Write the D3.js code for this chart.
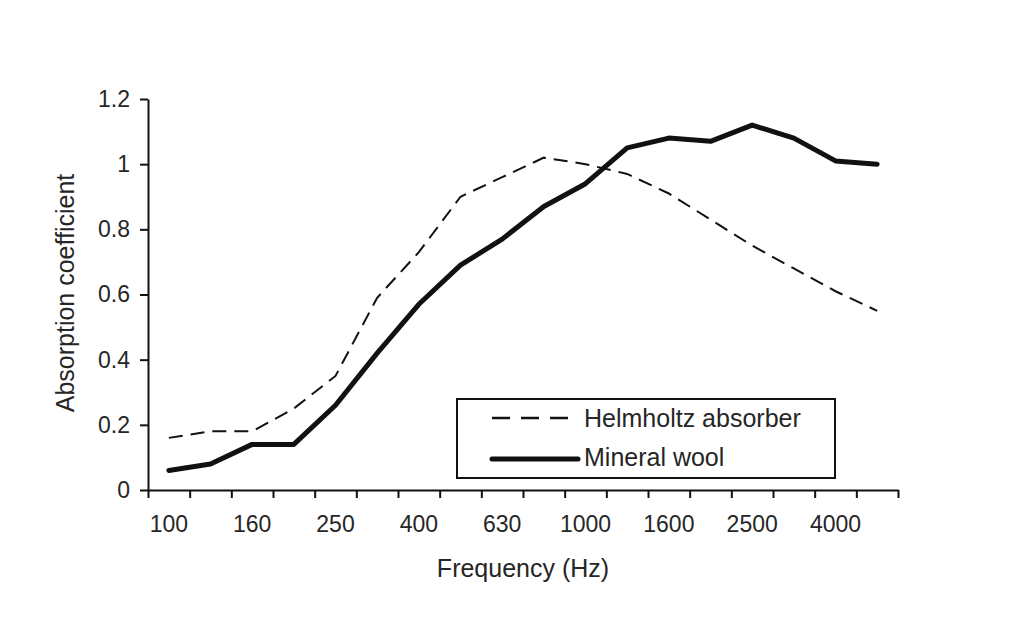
<!DOCTYPE html>
<html lang="en">
    <head>
        <meta charset="utf-8">
        <title>Absorption coefficient</title>
        <script src="https://d3js.org/d3.v7.min.js"></script>
        <style type="text/css">
            body { margin: 0; background: #fff; }
            text { font-family: "Liberation Sans", Arial, sans-serif; fill: #262626; }
            .axis path, .axis line { stroke: #111; stroke-width: 2; }
        </style>
    </head>
    <body>
        <script type="text/javascript">

            //consts
            const w = 1024;
            const h = 640;
            const mLeft = 148, mRight = 898, mTop = 99, mBottom = 490;

            //data
            const freqs = ["100", "125", "160", "200", "250", "315", "400", "500", "630",
                           "800", "1000", "1250", "1600", "2000", "2500", "3150", "4000", "5000"];
            const xLabels = ["100", "160", "250", "400", "630", "1000", "1600", "2500", "4000"];
            const helmholtz = [0.16, 0.18, 0.18, 0.25, 0.35, 0.59, 0.73, 0.90, 0.96,
                               1.02, 1.00, 0.97, 0.91, 0.83, 0.75, 0.68, 0.61, 0.55];
            const mineralWool = [0.06, 0.08, 0.14, 0.14, 0.26, 0.42, 0.57, 0.69, 0.77,
                                 0.87, 0.94, 1.05, 1.08, 1.07, 1.12, 1.08, 1.01, 1.00];
            const yTicks = [0, 0.2, 0.4, 0.6, 0.8, 1, 1.2];

            //scales
            const xScale = d3.scaleBand()
                             .domain(freqs)
                             .range([mLeft, mRight])
                             .padding(0);
            const xEdges = d3.scaleLinear()
                             .domain([0, freqs.length])
                             .range([mLeft, mRight]);
            const yScale = d3.scaleLinear()
                             .domain([0, 1.2])
                             .range([mBottom, mTop]);

            //SVG
            const svg = d3.select("body")
                    .append("svg")
                    .attr("width", w)
                    .attr("height", h);

            //bottom axis: tick marks at band edges, labels at band centres
            svg.append("g")
               .attr("class", "axis")
               .attr("transform", "translate(0," + mBottom + ")")
               .call(d3.axisBottom(xEdges)
                       .tickValues(d3.range(freqs.length + 1))
                       .tickSize(8)
                       .tickSizeOuter(0)
                       .tickFormat(""));

            svg.append("g")
               .attr("transform", "translate(0," + mBottom + ")")
               .call(d3.axisBottom(xScale)
                       .tickValues(xLabels)
                       .tickSize(0)
                       .tickPadding(26))
               .call(g => g.select(".domain").remove())
               .selectAll("text")
               .style("font-size", "23px");

            //left axis
            svg.append("g")
               .attr("class", "axis")
               .attr("transform", "translate(" + mLeft + ",0)")
               .call(d3.axisLeft(yScale)
                       .tickValues(yTicks)
                       .tickSize(8)
                       .tickSizeOuter(0)
                       .tickPadding(10)
                       .tickFormat(d => String(+d.toFixed(1))))
               .selectAll("text")
               .style("font-size", "23px");

            //axis titles
            svg.append("text")
               .attr("x", 523)
               .attr("y", 577)
               .attr("text-anchor", "middle")
               .style("font-size", "25px")
               .text("Frequency (Hz)");

            svg.append("text")
               .attr("transform", "translate(74,293) rotate(-90)")
               .attr("text-anchor", "middle")
               .style("font-size", "25px")
               .text("Absorption coefficient");

            //lines
            const line = d3.line()
                           .x((d, i) => xScale(freqs[i]) + xScale.bandwidth() / 2)
                           .y(d => yScale(d));

            svg.append("path")
               .datum(helmholtz)
               .attr("d", line)
               .attr("fill", "none")
               .attr("stroke", "#111")
               .attr("stroke-width", 2)
               .attr("stroke-dasharray", "14,8");

            svg.append("path")
               .datum(mineralWool)
               .attr("d", line)
               .attr("fill", "none")
               .attr("stroke", "#111")
               .attr("stroke-width", 5)
               .attr("stroke-linejoin", "round")
               .attr("stroke-linecap", "round");

            //legend
            const legend = svg.append("g");
            legend.append("rect")
                  .attr("x", 457).attr("y", 399)
                  .attr("width", 378).attr("height", 79)
                  .attr("fill", "#fff")
                  .attr("stroke", "#111")
                  .attr("stroke-width", 2);

            const items = [
                {name: "Helmholtz absorber", width: 2.5, dash: "18,11", y: 418},
                {name: "Mineral wool", width: 5, dash: null, y: 459}
            ];
            items.forEach(it => {
                legend.append("line")
                      .attr("x1", 492).attr("x2", 578)
                      .attr("y1", it.y).attr("y2", it.y)
                      .attr("stroke", "#111")
                      .attr("stroke-width", it.width)
                      .attr("stroke-dasharray", it.dash)
                      .attr("stroke-linecap", it.dash ? "butt" : "round");
                legend.append("text")
                      .attr("x", 584)
                      .attr("y", it.y + (it.dash ? 9 : 7))
                      .style("font-size", "25px")
                      .text(it.name);
            });

        </script>
    </body>
</html>
